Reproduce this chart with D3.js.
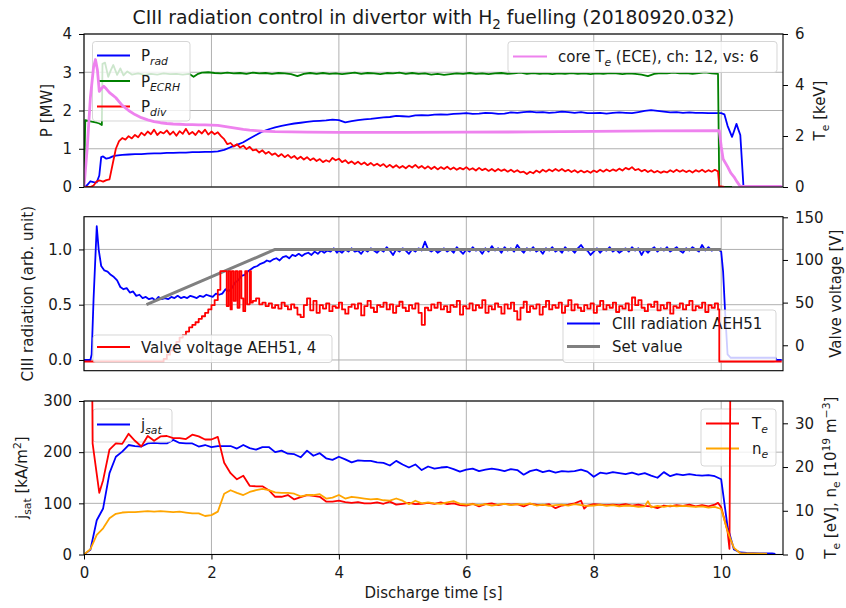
<!DOCTYPE html>
<html>
<head>
<meta charset="utf-8">
<script src="https://cdn.jsdelivr.net/npm/d3@7"></script>
<style>
  body { margin: 0; background: #fff; }
  svg { display: block; font-family: "DejaVu Sans", sans-serif; }
</style>
</head>
<body>
<div id="chart"></div>
<script>
// ---- 데이터 (그림에서 읽은 값, [time s, value]) ----

// top panel: powers [MW]
const pRad = [[0,0],[0.05,0.05],[0.1,0.15],[0.15,0.13],[0.2,0.12],[0.24,0.3],[0.27,0.78],[0.3,0.8],[0.35,0.74],[0.4,0.76],[0.45,0.8],[0.5,0.82],[0.6,0.84],[0.7,0.85],[0.8,0.86],[0.9,0.86],[1.0,0.87],[1.1,0.88],[1.2,0.88],[1.3,0.89],[1.4,0.89],[1.5,0.9],[1.6,0.9],[1.7,0.91],[1.8,0.91],[1.9,0.92],[2.0,0.92],[2.1,0.93],[2.2,0.97],[2.3,1.04],[2.4,1.1],[2.5,1.17],[2.6,1.27],[2.7,1.36],[2.8,1.45],[2.9,1.51],[3.0,1.56],[3.1,1.6],[3.2,1.63],[3.3,1.66],[3.4,1.68],[3.5,1.7],[3.6,1.72],[3.7,1.73],[3.8,1.74],[3.9,1.76],[4.0,1.75],[4.1,1.69],[4.2,1.72],[4.3,1.75],[4.4,1.77],[4.5,1.78],[4.6,1.8],[4.7,1.82],[4.8,1.83],[4.9,1.86],[5.0,1.85],[5.1,1.84],[5.2,1.87],[5.3,1.88],[5.4,1.87],[5.5,1.89],[5.6,1.9],[5.7,1.89],[5.8,1.91],[5.9,1.92],[6.0,1.93],[6.1,1.91],[6.2,1.92],[6.3,1.94],[6.4,1.93],[6.5,1.91],[6.6,1.92],[6.7,1.95],[6.8,1.94],[6.9,1.96],[7.0,1.97],[7.1,1.95],[7.2,1.96],[7.3,1.94],[7.4,1.95],[7.5,1.97],[7.6,1.96],[7.7,1.94],[7.8,1.96],[7.9,1.93],[8.0,1.93],[8.1,1.94],[8.2,1.92],[8.3,1.94],[8.4,1.95],[8.5,1.94],[8.6,1.93],[8.7,1.96],[8.8,1.99],[8.9,2.01],[9.0,1.99],[9.1,1.97],[9.2,1.95],[9.3,1.96],[9.4,1.94],[9.5,1.95],[9.6,1.94],[9.7,1.94],[9.8,1.93],[9.9,1.93],[10.0,1.93],[10.05,1.9],[10.1,1.6],[10.17,1.31],[10.2,1.45],[10.24,1.65],[10.27,1.5],[10.3,1.36],[10.35,0],[10.95,0]];

const pEcrh = [[0,0],[0.02,1.75],[0.08,1.72],[0.14,1.7],[0.2,1.68],[0.24,1.66],[0.28,1.62],[0.29,3.22],[0.33,3.25],[0.38,2.88],[0.42,3.05],[0.46,3.19],[0.52,2.93],[0.57,3.1],[0.62,2.92],[0.68,3.02],[0.75,2.94],[0.85,2.97],[0.95,2.93],[1.05,2.96],[1.15,2.94],[1.25,2.97],[1.35,2.95],[1.45,2.96],[1.55,2.94],[1.65,2.96],[1.72,2.88],[1.78,2.95],[1.85,2.99],[1.95,3.0],[2.05,2.98],[2.15,2.97],[2.25,2.99],[2.35,2.97],[2.45,2.98],[2.55,2.96],[2.65,2.99],[2.75,2.97],[2.85,2.98],[2.95,2.96],[3.05,2.98],[3.15,2.97],[3.25,2.95],[3.35,2.9],[3.45,2.96],[3.55,2.98],[3.65,2.96],[3.75,2.98],[3.85,2.96],[3.95,2.97],[4.05,2.95],[4.15,2.97],[4.25,2.99],[4.35,2.96],[4.45,2.98],[4.55,2.97],[4.65,2.95],[4.75,2.98],[4.85,2.97],[4.95,2.99],[5.05,2.96],[5.15,2.98],[5.25,2.96],[5.35,2.97],[5.45,2.94],[5.55,2.96],[5.65,2.93],[5.75,2.95],[5.85,2.97],[5.95,2.96],[6.05,2.98],[6.15,2.96],[6.25,2.97],[6.35,2.95],[6.45,2.97],[6.55,2.98],[6.65,2.96],[6.75,2.97],[6.85,2.99],[6.95,2.96],[7.05,2.98],[7.15,2.96],[7.25,2.97],[7.35,2.95],[7.45,2.97],[7.55,2.96],[7.65,2.98],[7.75,2.96],[7.85,2.97],[7.95,2.95],[8.05,2.97],[8.15,2.96],[8.25,2.98],[8.35,2.97],[8.45,2.95],[8.55,2.97],[8.65,2.96],[8.75,2.94],[8.85,2.9],[8.95,2.96],[9.05,2.98],[9.15,2.97],[9.25,2.99],[9.35,2.97],[9.45,2.98],[9.55,2.96],[9.65,2.98],[9.75,3.0],[9.85,2.97],[9.95,2.96],[9.97,0],[10.17,0]];

const pDiv = [[0,0],[0.1,0],[0.15,0.04],[0.2,0.15],[0.25,0.17],[0.3,0.14],[0.35,0.18],[0.4,0.2],[0.45,0.6],[0.5,1.0],[0.55,1.2],[0.6,1.28],[0.65,1.24],[0.7,1.33],[0.75,1.27],[0.8,1.36],[0.85,1.3],[0.9,1.42],[0.95,1.35],[1.0,1.45],[1.05,1.38],[1.1,1.5],[1.15,1.36],[1.2,1.44],[1.25,1.4],[1.3,1.48],[1.35,1.37],[1.4,1.45],[1.45,1.34],[1.5,1.46],[1.55,1.39],[1.6,1.52],[1.65,1.38],[1.7,1.44],[1.75,1.36],[1.8,1.47],[1.85,1.4],[1.9,1.5],[1.95,1.37],[2.0,1.45],[2.05,1.38],[2.1,1.43],[2.15,1.33],[2.2,1.25],[2.25,1.12],[2.3,1.15],[2.35,1.06],[2.4,1.12],[2.45,1.03],[2.5,1.08],[2.55,0.99],[2.6,1.05],[2.65,0.96],[2.7,0.98],[2.75,0.9],[2.8,0.96],[2.85,0.87],[2.9,0.92],[2.95,0.84],[3.0,0.88],[3.05,0.8],[3.1,0.86],[3.15,0.78],[3.2,0.84],[3.25,0.76],[3.3,0.81],[3.35,0.73],[3.4,0.79],[3.45,0.72],[3.5,0.78],[3.55,0.7],[3.6,0.75],[3.65,0.68],[3.7,0.73],[3.75,0.65],[3.8,0.7],[3.85,0.66],[3.9,0.76],[3.95,0.7],[4.0,0.74],[4.05,0.65],[4.1,0.7],[4.15,0.62],[4.2,0.67],[4.25,0.6],[4.3,0.66],[4.35,0.59],[4.4,0.64],[4.45,0.57],[4.5,0.63],[4.55,0.56],[4.6,0.61],[4.65,0.55],[4.7,0.6],[4.75,0.52],[4.8,0.58],[4.85,0.51],[4.9,0.57],[4.95,0.5],[5.0,0.55],[5.05,0.49],[5.1,0.56],[5.15,0.51],[5.2,0.58],[5.25,0.5],[5.3,0.55],[5.35,0.48],[5.4,0.54],[5.45,0.47],[5.5,0.53],[5.55,0.46],[5.6,0.52],[5.65,0.47],[5.7,0.53],[5.75,0.46],[5.8,0.51],[5.85,0.45],[5.9,0.5],[5.95,0.46],[6.0,0.52],[6.05,0.45],[6.1,0.49],[6.15,0.43],[6.2,0.5],[6.25,0.44],[6.3,0.48],[6.35,0.42],[6.4,0.47],[6.45,0.41],[6.5,0.47],[6.55,0.42],[6.6,0.46],[6.65,0.4],[6.7,0.45],[6.75,0.39],[6.8,0.44],[6.85,0.38],[6.9,0.4],[6.95,0.34],[7.0,0.4],[7.05,0.36],[7.1,0.43],[7.15,0.38],[7.2,0.45],[7.25,0.4],[7.3,0.46],[7.35,0.41],[7.4,0.47],[7.45,0.42],[7.5,0.47],[7.55,0.41],[7.6,0.45],[7.65,0.39],[7.7,0.44],[7.75,0.38],[7.8,0.43],[7.85,0.38],[7.9,0.42],[7.95,0.37],[8.0,0.43],[8.05,0.39],[8.1,0.45],[8.15,0.4],[8.2,0.46],[8.25,0.41],[8.3,0.46],[8.35,0.42],[8.4,0.48],[8.45,0.43],[8.5,0.5],[8.55,0.46],[8.6,0.52],[8.65,0.44],[8.7,0.47],[8.75,0.41],[8.8,0.45],[8.85,0.39],[8.9,0.44],[8.95,0.38],[9.0,0.42],[9.05,0.37],[9.1,0.41],[9.15,0.38],[9.2,0.44],[9.25,0.39],[9.3,0.45],[9.35,0.4],[9.4,0.44],[9.45,0.39],[9.5,0.43],[9.55,0.38],[9.6,0.44],[9.65,0.4],[9.7,0.45],[9.75,0.39],[9.8,0.44],[9.85,0.4],[9.9,0.45],[9.95,0.41],[9.97,0.02],[10.05,0.0]];

// top panel twin: core Te [keV]
const coreTe = [[0,0],[0.05,1.5],[0.1,3.5],[0.15,4.7],[0.18,5.0],[0.21,4.6],[0.24,3.75],[0.27,3.85],[0.31,3.95],[0.35,3.85],[0.4,3.7],[0.45,3.6],[0.5,3.5],[0.55,3.35],[0.6,3.2],[0.65,3.1],[0.7,3.0],[0.8,2.84],[0.9,2.72],[1.0,2.63],[1.1,2.56],[1.2,2.52],[1.3,2.49],[1.4,2.47],[1.5,2.46],[1.6,2.45],[1.7,2.45],[1.8,2.44],[1.9,2.44],[2.0,2.43],[2.1,2.42],[2.2,2.38],[2.3,2.34],[2.4,2.3],[2.5,2.26],[2.6,2.23],[2.7,2.21],[2.8,2.19],[2.9,2.18],[3.0,2.17],[3.5,2.15],[4.0,2.14],[5.0,2.14],[6.0,2.15],[7.0,2.16],[8.0,2.18],[9.0,2.2],[9.97,2.21],[10.0,1.6],[10.03,1.1],[10.1,0.8],[10.15,0.55],[10.2,0.4],[10.25,0.2],[10.3,0.02],[10.95,0.02]];

// middle panel: CIII radiation (arb. unit) and set value
const ciii = [[0,0.0],[0.1,0.0],[0.12,0.05],[0.15,0.55],[0.2,1.21],[0.23,1.0],[0.27,0.85],[0.32,0.81],[0.37,0.8],[0.42,0.77],[0.47,0.75],[0.52,0.72],[0.57,0.66],[0.62,0.64],[0.67,0.65],[0.72,0.61],[0.77,0.62],[0.82,0.58],[0.87,0.59],[0.92,0.56],[0.97,0.57],[1.02,0.55],[1.07,0.56],[1.12,0.54],[1.17,0.57],[1.22,0.55],[1.27,0.56],[1.32,0.55],[1.37,0.57],[1.42,0.56],[1.47,0.58],[1.52,0.56],[1.57,0.57],[1.62,0.56],[1.67,0.58],[1.72,0.57],[1.77,0.56],[1.82,0.58],[1.87,0.57],[1.92,0.59],[1.97,0.58],[2.02,0.57],[2.07,0.6],[2.12,0.59],[2.17,0.6],[2.22,0.64],[2.27,0.62],[2.32,0.65],[2.37,0.7],[2.42,0.72],[2.47,0.76],[2.52,0.77],[2.57,0.8],[2.62,0.82],[2.67,0.84],[2.72,0.85],[2.77,0.87],[2.82,0.88],[2.87,0.9],[2.92,0.89],[2.97,0.91],[3.02,0.92],[3.07,0.9],[3.12,0.93],[3.17,0.94],[3.22,0.92],[3.27,0.95],[3.32,0.94],[3.37,0.96],[3.42,0.94],[3.47,0.96],[3.52,0.97],[3.57,0.95],[3.62,0.98],[3.67,0.96],[3.72,0.99],[3.77,0.97],[3.82,0.99],[3.87,0.98],[3.92,1.01],[3.97,0.97],[4.0,0.99],[4.05,0.97],[4.1,1.0],[4.15,0.98],[4.2,1.01],[4.25,0.98],[4.3,0.99],[4.35,0.96],[4.4,1.0],[4.45,0.98],[4.5,1.01],[4.55,0.99],[4.6,0.97],[4.65,1.0],[4.7,0.98],[4.75,1.02],[4.8,0.99],[4.85,0.95],[4.9,1.0],[4.95,0.98],[5.0,1.01],[5.05,0.99],[5.1,0.96],[5.15,1.0],[5.2,0.98],[5.25,1.01],[5.3,0.99],[5.35,1.07],[5.4,1.0],[5.45,0.98],[5.5,1.0],[5.55,0.97],[5.6,0.99],[5.65,1.01],[5.7,0.98],[5.75,1.0],[5.8,0.97],[5.85,1.02],[5.9,0.99],[5.95,0.96],[6.0,1.0],[6.05,0.98],[6.1,1.02],[6.15,0.99],[6.2,1.0],[6.25,0.96],[6.3,1.01],[6.35,0.98],[6.4,1.03],[6.45,0.99],[6.5,1.01],[6.55,0.97],[6.6,1.02],[6.65,0.99],[6.7,1.01],[6.75,0.98],[6.8,1.04],[6.85,1.0],[6.9,0.97],[6.95,1.01],[7.0,0.99],[7.05,1.02],[7.1,0.98],[7.15,1.0],[7.2,0.96],[7.25,1.01],[7.3,0.99],[7.35,1.02],[7.4,0.98],[7.45,1.0],[7.5,0.97],[7.55,1.02],[7.6,0.99],[7.65,1.0],[7.7,0.97],[7.75,1.01],[7.8,1.04],[7.85,1.0],[7.9,0.99],[7.95,0.95],[8.0,0.98],[8.05,1.01],[8.1,0.97],[8.15,1.0],[8.2,0.99],[8.25,1.02],[8.3,0.98],[8.35,1.0],[8.4,0.97],[8.45,0.99],[8.5,1.01],[8.55,0.98],[8.6,1.02],[8.65,0.99],[8.7,1.01],[8.75,0.95],[8.8,1.0],[8.85,0.97],[8.9,1.0],[8.95,1.02],[9.0,0.98],[9.05,1.01],[9.1,0.99],[9.15,1.02],[9.2,0.98],[9.25,1.0],[9.3,1.02],[9.35,0.99],[9.4,0.97],[9.45,1.01],[9.5,0.99],[9.55,1.02],[9.6,1.0],[9.65,0.98],[9.7,1.04],[9.75,0.99],[9.8,1.02],[9.85,0.99],[9.9,1.0],[9.95,1.0],[10.0,0.98],[10.03,0.8],[10.06,0.45],[10.1,0.05],[10.15,0.02],[10.85,0.02],[10.87,0.0],[10.95,0.0]];

const setValue = [[0.98,0.5],[3.0,1.0],[10.0,1.0]];

// middle panel twin: valve voltage [V] (step signal)
const valveV = [[0,-19],[1.2,-19],[1.25,-16],[1.3,-11],[1.35,-6],[1.4,-2],[1.45,4],[1.5,9],[1.55,12],[1.6,16],[1.65,21],[1.7,24],[1.75,27],[1.8,31],[1.85,34],[1.9,38],[1.95,42],[2.0,47],[2.05,53],[2.1,65],[2.14,87],[2.24,46],[2.27,87],[2.3,42],[2.32,87],[2.35,52],[2.38,87],[2.41,44],[2.44,87],[2.47,55],[2.5,40],[2.53,87],[2.56,48],[2.6,87],[2.62,50],[2.65,52],[2.7,55],[2.75,48],[2.8,50],[2.85,46],[2.9,49],[2.95,44],[3.0,47],[3.05,43],[3.1,50],[3.15,46],[3.2,42],[3.25,48],[3.3,44],[3.35,36],[3.4,33],[3.45,47],[3.5,55],[3.55,41],[3.6,52],[3.65,38],[3.7,47],[3.75,43],[3.8,49],[3.85,40],[3.9,46],[3.95,44],[4.0,50],[4.05,42],[4.1,37],[4.15,45],[4.2,48],[4.25,43],[4.3,49],[4.35,35],[4.4,46],[4.45,52],[4.5,44],[4.55,39],[4.6,47],[4.65,45],[4.7,50],[4.75,42],[4.8,48],[4.85,38],[4.9,46],[4.95,51],[5.0,44],[5.05,40],[5.1,47],[5.15,43],[5.2,49],[5.25,38],[5.3,24],[5.35,44],[5.4,41],[5.45,48],[5.5,44],[5.55,50],[5.6,42],[5.65,46],[5.7,39],[5.75,47],[5.8,45],[5.85,52],[5.9,36],[5.95,46],[6.0,43],[6.05,49],[6.1,41],[6.15,47],[6.2,44],[6.25,53],[6.3,38],[6.35,46],[6.4,42],[6.45,49],[6.5,45],[6.55,37],[6.6,48],[6.65,43],[6.7,50],[6.75,40],[6.8,30],[6.85,44],[6.9,51],[6.95,39],[7.0,46],[7.05,43],[7.1,48],[7.15,36],[7.2,45],[7.25,52],[7.3,42],[7.35,47],[7.4,44],[7.45,50],[7.5,38],[7.55,46],[7.6,53],[7.65,41],[7.7,48],[7.75,44],[7.8,40],[7.85,47],[7.9,43],[7.95,49],[8.0,38],[8.05,46],[8.1,52],[8.15,42],[8.2,47],[8.25,44],[8.3,50],[8.35,39],[8.4,46],[8.45,43],[8.5,49],[8.55,41],[8.6,56],[8.65,47],[8.7,53],[8.75,44],[8.8,40],[8.85,48],[8.9,45],[8.95,51],[9.0,41],[9.05,47],[9.1,43],[9.15,50],[9.2,37],[9.25,46],[9.3,44],[9.35,49],[9.4,42],[9.45,47],[9.5,52],[9.55,41],[9.6,46],[9.65,44],[9.7,50],[9.75,39],[9.8,47],[9.85,44],[9.9,49],[9.95,42],[9.97,-19],[10.95,-19]];

// bottom panel: jsat [kA/m2]
const jsat = [[0,0],[0.1,9],[0.2,67],[0.3,90],[0.4,159],[0.5,191],[0.6,201],[0.7,214],[0.8,212],[0.9,211],[1.0,217],[1.1,218],[1.2,217],[1.3,217],[1.4,224],[1.5,218],[1.6,217],[1.7,217],[1.8,211],[1.9,214],[2.0,210],[2.1,212],[2.2,212],[2.3,212],[2.4,207],[2.5,214],[2.6,208],[2.7,205],[2.8,210],[2.9,210],[3.0,200],[3.1,203],[3.2,197],[3.3,196],[3.4,190],[3.5,203],[3.6,193],[3.7,198],[3.8,188],[3.9,185],[4.0,191],[4.1,186],[4.2,180],[4.3,184],[4.4,183],[4.5,183],[4.6,180],[4.7,179],[4.8,174],[4.9,183],[5.0,176],[5.1,170],[5.2,176],[5.3,165],[5.4,172],[5.5,168],[5.6,170],[5.7,171],[5.8,167],[5.9,162],[6.0,166],[6.1,168],[6.2,163],[6.3,166],[6.4,168],[6.5,166],[6.6,163],[6.7,167],[6.8,165],[6.9,156],[7.0,163],[7.1,166],[7.2,161],[7.3,164],[7.4,160],[7.5,163],[7.6,162],[7.7,163],[7.8,166],[7.9,162],[8.0,152],[8.1,160],[8.2,158],[8.3,161],[8.4,159],[8.5,157],[8.6,160],[8.7,156],[8.8,159],[8.9,154],[9.0,150],[9.1,161],[9.2,153],[9.3,157],[9.4,155],[9.5,157],[9.6,155],[9.7,154],[9.8,155],[9.9,153],[10.0,147],[10.1,54],[10.2,10],[10.3,4],[10.4,3],[10.6,2],[10.8,2],[10.85,1]];

// bottom panel twin: Te [eV], ne [1e19 m^-3]
const teDiv = [[0.12,60],[0.135,25.4],[0.24,14.1],[0.3,17],[0.4,24],[0.5,25.4],[0.6,25.3],[0.7,27.6],[0.8,26],[0.9,24.7],[1.0,27.1],[1.1,26],[1.2,27],[1.3,27.1],[1.4,26.6],[1.5,26.6],[1.6,26.4],[1.7,27.4],[1.8,27],[1.9,26.3],[2.0,26.3],[2.1,26.9],[2.2,21],[2.3,18.6],[2.4,17.2],[2.5,18],[2.6,15.7],[2.7,15.6],[2.8,15.6],[2.9,14.7],[3.0,13.2],[3.1,13.2],[3.2,13.6],[3.3,12.6],[3.4,13.1],[3.5,13.6],[3.6,13.4],[3.7,13.2],[3.8,12.1],[3.9,12.1],[4.0,12.3],[4.1,12.0],[4.2,11.8],[4.3,12.0],[4.4,11.7],[4.5,11.7],[4.6,11.9],[4.7,11.6],[4.8,12.1],[4.9,11.4],[5.0,11.6],[5.1,11.8],[5.2,11.5],[5.3,11.6],[5.4,11.8],[5.5,11.6],[5.6,11.9],[5.7,11.5],[5.8,11.7],[5.9,11.3],[6.0,11.2],[6.1,11.6],[6.2,11.0],[6.3,11.5],[6.4,11.7],[6.5,11.3],[6.6,11.6],[6.7,11.4],[6.8,11.5],[6.9,11.0],[7.0,11.6],[7.1,11.4],[7.2,11.3],[7.3,11.5],[7.4,10.6],[7.5,11.2],[7.6,11.4],[7.7,11.7],[7.8,12.3],[7.85,10.5],[7.9,11.2],[8.0,11.5],[8.1,11.4],[8.2,11.3],[8.3,11.4],[8.4,11.3],[8.5,11.5],[8.6,11.2],[8.7,11.4],[8.8,11.1],[8.9,11.0],[9.0,10.6],[9.1,11.2],[9.2,11.0],[9.3,11.3],[9.4,11.1],[9.5,11.4],[9.6,11.0],[9.7,11.3],[9.8,11.0],[9.9,11.4],[9.95,11.8],[10.0,10.8],[10.1,5.3],[10.13,1.3],[10.15,60]];

const neDiv = [[0,0],[0.1,1.2],[0.2,4.5],[0.3,6.0],[0.4,8.3],[0.5,9.3],[0.6,9.6],[0.7,9.7],[0.8,9.7],[0.9,9.8],[1.0,9.9],[1.1,9.8],[1.2,9.9],[1.3,9.8],[1.4,9.7],[1.5,9.8],[1.6,9.6],[1.7,9.4],[1.8,9.4],[1.9,8.8],[2.0,9.0],[2.1,9.8],[2.2,13.9],[2.3,14.7],[2.4,14.1],[2.5,13.6],[2.6,14.3],[2.7,14.7],[2.8,15.0],[2.9,14.7],[3.0,14.2],[3.1,14.1],[3.2,14.1],[3.3,13.9],[3.4,13.3],[3.5,13.6],[3.6,13.6],[3.7,13.8],[3.8,12.8],[3.9,13.0],[4.0,13.6],[4.1,12.8],[4.2,13.2],[4.3,13.0],[4.4,12.8],[4.5,12.6],[4.6,12.7],[4.7,12.4],[4.8,12.3],[4.9,12.8],[5.0,12.3],[5.1,11.5],[5.2,12.3],[5.3,11.7],[5.4,11.9],[5.5,11.7],[5.6,11.6],[5.7,11.9],[5.8,12.2],[5.9,11.6],[6.0,11.4],[6.1,11.5],[6.2,11.3],[6.3,11.5],[6.4,11.2],[6.5,11.4],[6.6,11.6],[6.7,11.3],[6.8,11.5],[6.9,11.4],[7.0,11.7],[7.1,11.2],[7.2,11.4],[7.3,11.1],[7.4,11.3],[7.5,11.4],[7.6,11.2],[7.7,11.5],[7.8,11.3],[7.9,11.1],[8.0,11.2],[8.1,11.4],[8.2,11.1],[8.3,11.3],[8.4,11.0],[8.5,11.2],[8.6,11.1],[8.7,10.9],[8.8,11.0],[8.85,12.2],[8.9,10.8],[9.0,11.1],[9.1,10.9],[9.2,11.2],[9.3,11.0],[9.4,11.1],[9.5,11.0],[9.6,10.9],[9.7,11.0],[9.8,10.7],[9.9,10.9],[10.0,10.4],[10.1,5.3],[10.2,1.5],[10.3,0.3],[10.72,0.2]];

// 눈금 값
const xTicks = [0, 2, 4, 6, 8, 10];
const pTicks = [0, 1, 2, 3, 4];
const keVTicks = [0, 2, 4, 6];
const ciiiTicks = [0, 0.5, 1.0];
const voltTicks = [0, 50, 100, 150];
const jsatTicks = [0, 100, 200, 300];
const eVTicks = [0, 10, 20, 30];

// ---- 레이아웃 ----
const W = 846, H = 608;
const X0 = 84, X1 = 783;
const FONT = 15;

const svg = d3.select('#chart').append('svg')
    .attr('width', W)
    .attr('height', H);

const x = d3.scaleLinear().domain([0, 10.97]).range([X0, X1]);

// 패널별 y 스케일
const yP = d3.scaleLinear().domain([0, 4]).range([187, 34]);
const yKeV = d3.scaleLinear().domain([0, 6]).range([187, 34]);
const yC = d3.scaleLinear().domain([-0.097, 1.296]).range([370.7, 216.7]);
const yV = d3.scaleLinear().domain([-29.8, 150.7]).range([370.7, 216.7]);
const yJ = d3.scaleLinear().domain([0, 300]).range([554.5, 401]);
const yEV = d3.scaleLinear().domain([0, 35.1]).range([554.5, 401]);

// 아래/위 첨자가 있는 텍스트
function rich(text, parts, size) {
    let shift = 0;
    parts.forEach(p => {
        const ts = text.append('tspan').text(p.t);
        let target = 0;
        if (p.sub) target = size * 0.28;
        if (p.sup) target = -size * 0.4;
        if (target !== shift) ts.attr('dy', target - shift);
        shift = target;
        if (p.sub || p.sup) ts.attr('font-size', size * 0.72);
        if (p.it) ts.attr('font-style', 'italic');
    });
}

// 패널 그리기: 클립, 그리드
function panel(id, yScale, yTicks) {
    const [b, t] = yScale.range();
    svg.append('clipPath').attr('id', 'clip-' + id)
        .append('rect')
        .attr('x', X0).attr('y', t)
        .attr('width', X1 - X0).attr('height', b - t);

    const grid = svg.append('g');
    xTicks.forEach(v => {
        grid.append('line')
            .attr('x1', x(v)).attr('x2', x(v))
            .attr('y1', t).attr('y2', b)
            .attr('stroke', '#b0b0b0').attr('stroke-width', 1);
    });
    yTicks.forEach(v => {
        grid.append('line')
            .attr('x1', X0).attr('x2', X1)
            .attr('y1', yScale(v)).attr('y2', yScale(v))
            .attr('stroke', '#b0b0b0').attr('stroke-width', 1);
    });
    return svg.append('g').attr('clip-path', `url(#clip-${id})`);
}

function addLine(g, data, yScale, color, width, curve) {
    const line = d3.line()
        .x(d => x(d[0]))
        .y(d => yScale(d[1]))
        .curve(curve || d3.curveLinear);
    g.append('path')
        .datum(data)
        .attr('d', line)
        .attr('fill', 'none')
        .attr('stroke', color)
        .attr('stroke-width', width)
        .attr('stroke-linejoin', 'round');
}

// 범례 박스
function legend(box, rows) {
    const g = svg.append('g');
    g.append('rect')
        .attr('x', box[0]).attr('y', box[1])
        .attr('width', box[2] - box[0]).attr('height', box[3] - box[1])
        .attr('rx', 3)
        .attr('fill', '#fff').attr('fill-opacity', 0.8)
        .attr('stroke', '#cccccc').attr('stroke-opacity', 0.8);
    rows.forEach(r => {
        g.append('line')
            .attr('x1', r.x1).attr('x2', r.x2)
            .attr('y1', r.y).attr('y2', r.y)
            .attr('stroke', r.color).attr('stroke-width', r.w);
        const t = g.append('text')
            .attr('x', r.tx).attr('y', r.y + 5.5)
            .attr('font-size', FONT).attr('fill', '#1a1a1a');
        rich(t, r.label, FONT);
    });
}

function styleAxis(ax) {
    ax.attr('font-family', '"DejaVu Sans", sans-serif').attr('font-size', FONT);
    ax.select('.domain').remove();
    ax.selectAll('line').attr('stroke', '#000');
    ax.selectAll('text').attr('fill', '#1a1a1a');
}

function leftAxis(scale, ticks, fmt) {
    const ax = svg.append('g').attr('transform', `translate(${X0},0)`)
        .call(d3.axisLeft(scale).tickValues(ticks).tickFormat(fmt)
            .tickSize(5).tickSizeOuter(0).tickPadding(7));
    styleAxis(ax);
}

function rightAxis(scale, ticks, fmt) {
    const ax = svg.append('g').attr('transform', `translate(${X1},0)`)
        .call(d3.axisRight(scale).tickValues(ticks).tickFormat(fmt)
            .tickSize(5).tickSizeOuter(0).tickPadding(7));
    styleAxis(ax);
}

function frame(yScale) {
    const [b, t] = yScale.range();
    svg.append('rect')
        .attr('x', X0).attr('y', t)
        .attr('width', X1 - X0).attr('height', b - t)
        .attr('fill', 'none').attr('stroke', '#000').attr('stroke-width', 1.1);
}

function yLabel(cx, cy, parts) {
    const t = svg.append('text')
        .attr('transform', `translate(${cx},${cy}) rotate(-90)`)
        .attr('text-anchor', 'middle')
        .attr('dy', '0.35em')
        .attr('font-size', FONT).attr('fill', '#1a1a1a');
    rich(t, parts, FONT);
}

const fmtInt = d3.format('d');
const fmt1 = d3.format('.1f');

// 제목
const title = svg.append('text')
    .attr('x', (X0 + X1) / 2).attr('y', 24)
    .attr('text-anchor', 'middle')
    .attr('font-size', 18.8).attr('fill', '#1a1a1a');
rich(title, [{t: 'CIII radiation control in divertor with H'}, {t: '2', sub: 1}, {t: ' fuelling (20180920.032)'}], 18.8);

// ---- 상단 패널 ----
const gTop = panel('top', yP, pTicks);
addLine(gTop, pRad, yP, '#0000ff', 1.8);
addLine(gTop, pEcrh, yP, '#008000', 1.8);
addLine(gTop, pDiv, yP, '#ff0000', 1.8);
legend([92.5, 41.5, 190, 121], [
    {y: 55.5, x1: 97, x2: 130, tx: 141, color: '#0000ff', w: 1.8, label: [{t: 'P'}, {t: 'rad', sub: 1, it: 1}]},
    {y: 81, x1: 97, x2: 130, tx: 141, color: '#008000', w: 1.8, label: [{t: 'P'}, {t: 'ECRH', sub: 1, it: 1}]},
    {y: 106.5, x1: 97, x2: 130, tx: 141, color: '#ff0000', w: 1.8, label: [{t: 'P'}, {t: 'div', sub: 1, it: 1}]}
]);
const gTop2 = svg.append('g').attr('clip-path', 'url(#clip-top)');
addLine(gTop2, coreTe, yKeV, '#ee82ee', 2.8);
legend([508, 41.5, 777, 72.5], [
    {y: 56.5, x1: 513, x2: 547, tx: 558, color: '#ee82ee', w: 1.8,
     label: [{t: 'core T'}, {t: 'e', sub: 1, it: 1}, {t: ' (ECE), ch: 12, vs: 6'}]}
]);
frame(yP);
leftAxis(yP, pTicks, fmtInt);
rightAxis(yKeV, keVTicks, fmtInt);
yLabel(47, 110.5, [{t: 'P [MW]'}]);
yLabel(820, 110.5, [{t: 'T'}, {t: 'e', sub: 1}, {t: ' [keV]'}]);

// ---- 중간 패널 ----
const gMid = panel('mid', yC, ciiiTicks);
addLine(gMid, ciii, yC, '#0000ff', 1.8);
addLine(gMid, setValue, yC, '#808080', 3);
legend([563, 310, 776, 362.5], [
    {y: 323.5, x1: 567, x2: 600, tx: 612, color: '#0000ff', w: 1.8, label: [{t: 'CIII radiation AEH51'}]},
    {y: 346.5, x1: 567, x2: 600, tx: 612, color: '#808080', w: 3, label: [{t: 'Set value'}]}
]);
const gMid2 = svg.append('g').attr('clip-path', 'url(#clip-mid)');
addLine(gMid2, valveV, yV, '#ff0000', 1.8, d3.curveStepAfter);
legend([93, 335, 332, 362.5], [
    {y: 347, x1: 97, x2: 130, tx: 141, color: '#ff0000', w: 1.8, label: [{t: 'Valve voltage AEH51, 4'}]}
]);
frame(yC);
leftAxis(yC, ciiiTicks, fmt1);
rightAxis(yV, voltTicks, fmtInt);
yLabel(28, 293.7, [{t: 'CIII radiation (arb. unit)'}]);
yLabel(836, 293.7, [{t: 'Valve voltage [V]'}]);

// ---- 하단 패널 ----
const gBot = panel('bot', yJ, jsatTicks);
addLine(gBot, jsat, yJ, '#0000ff', 1.8);
legend([93, 409, 172, 442], [
    {y: 424.5, x1: 97, x2: 130, tx: 141, color: '#0000ff', w: 1.8, label: [{t: 'j'}, {t: 'sat', sub: 1, it: 1}]}
]);
legend([701, 409, 776, 466], [
    {y: 423.5, x1: 706, x2: 739, tx: 752, color: '#ff0000', w: 1.8, label: [{t: 'T'}, {t: 'e', sub: 1, it: 1}]},
    {y: 448.5, x1: 706, x2: 739, tx: 752, color: '#ffa500', w: 1.8, label: [{t: 'n'}, {t: 'e', sub: 1, it: 1}]}
]);
const gBot2 = svg.append('g').attr('clip-path', 'url(#clip-bot)');
addLine(gBot2, teDiv, yEV, '#ff0000', 1.8);
addLine(gBot2, neDiv, yEV, '#ffa500', 1.8);
frame(yJ);
leftAxis(yJ, jsatTicks, fmtInt);
rightAxis(yEV, eVTicks, fmtInt);

const xAx = svg.append('g').attr('transform', 'translate(0,554.5)')
    .call(d3.axisBottom(x).tickValues(xTicks).tickFormat(fmtInt)
        .tickSize(5).tickSizeOuter(0).tickPadding(8));
styleAxis(xAx);

yLabel(22, 477.7, [{t: 'j'}, {t: 'sat', sub: 1}, {t: ' [kA/m'}, {t: '2', sup: 1}, {t: ']'}]);
yLabel(831, 477.7, [{t: 'T'}, {t: 'e', sub: 1}, {t: ' [eV], n'}, {t: 'e', sub: 1}, {t: ' [10'}, {t: '19', sup: 1}, {t: ' m'}, {t: '\u22123', sup: 1}, {t: ']'}]);

svg.append('text')
    .attr('x', (X0 + X1) / 2).attr('y', 598)
    .attr('text-anchor', 'middle')
    .attr('font-size', FONT).attr('fill', '#1a1a1a')
    .text('Discharge time [s]');
</script>
</body>
</html>
